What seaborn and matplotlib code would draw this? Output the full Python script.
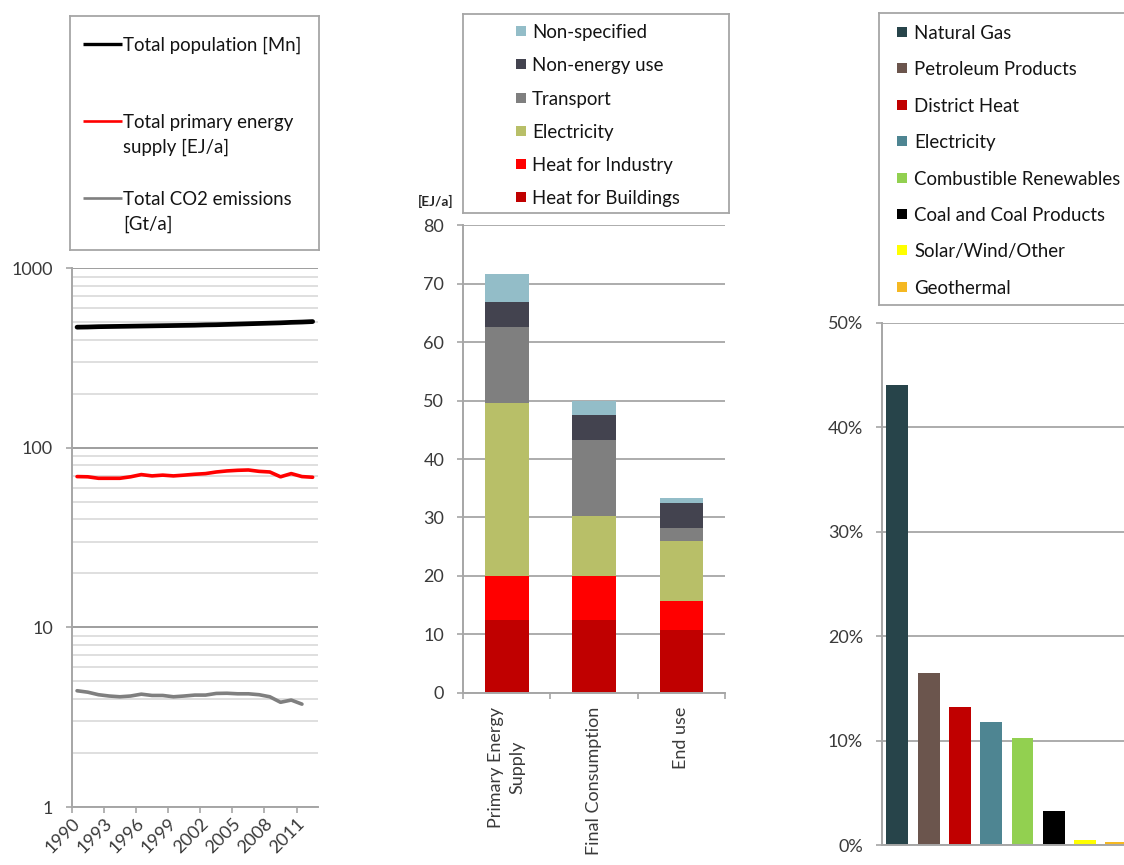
import matplotlib
matplotlib.use("Agg")
import matplotlib.pyplot as plt
import numpy as np
import pandas as pd
import seaborn as sns
from matplotlib.ticker import FixedLocator, FuncFormatter, NullFormatter

# ---------------- data ----------------
years = list(range(1990, 2013))
population_mn = [470, 471, 473, 474, 475, 476, 477, 478, 479, 480, 481, 482,
                 484, 485, 487, 489, 491, 493, 495, 497, 500, 502, 505]
primary_energy_ej = [69.2, 69.0, 67.7, 67.7, 67.7, 69.0, 71.0, 69.8, 70.5, 69.8,
                     70.5, 71.3, 71.9, 73.4, 74.4, 75.0, 75.3, 74.0, 73.4, 69.0,
                     71.9, 69.2, 68.6]
co2_years = list(range(1990, 2012))
co2_gt = [4.44, 4.36, 4.22, 4.15, 4.11, 4.15, 4.25, 4.18, 4.18, 4.11, 4.15,
          4.20, 4.20, 4.29, 4.30, 4.27, 4.27, 4.22, 4.11, 3.83, 3.94, 3.74]
trend_labels = ["Total population [Mn]",
                "Total primary energy\nsupply [EJ/a]",
                "Total CO2 emissions\n[Gt/a]"]
trend_colors = ["#000000", "#FF0000", "#7F7F7F"]

stages = ["Primary Energy\nSupply", "Final Consumption", "End use"]
heat_buildings = [12.5, 12.5, 10.7]
heat_industry = [7.4, 7.4, 5.0]
electricity = [29.6, 10.3, 10.3]
transport = [13.1, 13.1, 2.2]
non_energy = [4.3, 4.3, 4.3]
non_specified = [4.8, 2.3, 0.8]
use_labels = ["Heat for Buildings", "Heat for Industry", "Electricity",
              "Transport", "Non-energy use", "Non-specified"]
use_colors = ["#C00000", "#FF0000", "#B8BF68", "#7F7F7F", "#43434F", "#93BDC8"]

carriers = ["Natural Gas", "Petroleum Products", "District Heat", "Electricity",
            "Combustible Renewables", "Coal and Coal Products",
            "Solar/Wind/Other", "Geothermal"]
carrier_share = [0.440, 0.165, 0.132, 0.118, 0.102, 0.0325, 0.005, 0.003]
carrier_colors = ["#27444A", "#6B554D", "#C00000", "#4E8592", "#92D050",
                  "#000000", "#FFFF00", "#F5B822"]

# ---------------- style ----------------
sns.set_theme(style="white")
plt.rcParams["font.family"] = ["Lato", "DejaVu Sans"]

W, H = 1124, 865
fig = plt.figure(figsize=(W / 100, H / 100), dpi=100)

AXIS_COL = "#A6A6A6"
GRID_COL = "#A6A6A6"
MINOR_GRID = "#D6D6D6"
TICK_TXT = "#3A3A3A"
LEG_TXT = "#141414"
TICK_FS = 13
LEG_FS = 13.4


def px_rect(x0, y0, x1, y1):
    return [x0 / W, 1 - y1 / H, (x1 - x0) / W, (y1 - y0) / H]


def style_axes(ax):
    for side in ("top", "right"):
        ax.spines[side].set_visible(False)
    for side in ("left", "bottom"):
        ax.spines[side].set_color(AXIS_COL)
        ax.spines[side].set_linewidth(1.4)
    ax.set_facecolor("white")
    ax.set_axisbelow(True)
    ax.set_xlabel("")
    ax.set_ylabel("")


def legend_panel(x0, y0, x1, y1):
    lax = fig.add_axes(px_rect(x0, y0, x1, y1))
    lax.set_xlim(x0, x1)
    lax.set_ylim(y1, y0)
    lax.set_xticks([])
    lax.set_yticks([])
    lax.set_facecolor("white")
    for s in lax.spines.values():
        s.set_color(AXIS_COL)
        s.set_linewidth(1.3)
    return lax


# ---------------- left: trends on log scale ----------------
ax1 = fig.add_axes(px_rect(71.7, 268.3, 318, 807))
sns.lineplot(x=years, y=population_mn, color=trend_colors[0], lw=3.4, ax=ax1)
sns.lineplot(x=years, y=primary_energy_ej, color=trend_colors[1], lw=2.6, ax=ax1)
sns.lineplot(x=co2_years, y=co2_gt, color=trend_colors[2], lw=2.6, ax=ax1)
style_axes(ax1)
ax1.set_yscale("log")
ax1.set_ylim(1, 1000)
ax1.set_xlim(1989.5, 2012.5)
ax1.yaxis.set_major_locator(FixedLocator([1, 10, 100, 1000]))
ax1.yaxis.set_major_formatter(FuncFormatter(lambda v, _: f"{v:g}"))
ax1.yaxis.set_minor_locator(FixedLocator(
    [m * 10 ** e for e in range(0, 3) for m in range(2, 10)]))
ax1.yaxis.set_minor_formatter(NullFormatter())
ax1.grid(which="major", axis="y", color="#969696", lw=1.3)
ax1.grid(which="minor", axis="y", color=MINOR_GRID, lw=1.1)
ax1.grid(False, axis="x", which="both")
ax1.tick_params(axis="y", which="major", left=True, length=4.5, width=1.2,
                color=AXIS_COL, pad=9, labelsize=TICK_FS, labelcolor=TICK_TXT)
ax1.tick_params(axis="y", which="minor", left=False, length=0)
label_years = years[::3][:8]
ax1.xaxis.set_major_locator(FixedLocator(label_years))
ax1.xaxis.set_minor_locator(FixedLocator([1989.5 + 3 * k for k in range(8)]))
ax1.set_xticklabels([str(y) for y in label_years], rotation=45, ha="right",
                    va="center", rotation_mode="anchor")
ax1.tick_params(axis="x", which="major", bottom=True, length=0, pad=10,
                labelsize=TICK_FS, labelcolor=TICK_TXT)
ax1.tick_params(axis="x", which="minor", bottom=True, length=4.5, width=1.2,
                color=AXIS_COL)

# ---------------- middle: stacked energy use ----------------
ax2 = fig.add_axes(px_rect(463, 225.3, 725, 692.7))
layers = [heat_buildings, heat_industry, electricity, transport, non_energy,
          non_specified]
cum = np.cumsum(np.array(layers), axis=0)
use_df = pd.DataFrame({"stage": stages})
for i in range(len(layers) - 1, -1, -1):
    use_df["top"] = cum[i]
    sns.barplot(data=use_df, x="stage", y="top", color=use_colors[i],
                saturation=1, width=0.5, errorbar=None, ax=ax2,
                edgecolor="none", linewidth=0)
style_axes(ax2)
ax2.set_ylim(0, 80)
ax2.set_xlim(-0.5, 2.5)
ax2.yaxis.set_major_locator(FixedLocator(range(0, 81, 10)))
ax2.grid(axis="y", color=GRID_COL, lw=1.3)
ax2.grid(False, axis="x")
ax2.tick_params(axis="y", left=True, length=4.5, width=1.2, color=AXIS_COL,
                pad=9, labelsize=TICK_FS, labelcolor=TICK_TXT)
ax2.xaxis.set_major_locator(FixedLocator([0, 1, 2]))
ax2.set_xticklabels(stages, rotation=90, ha="center", va="top",
                    multialignment="center", linespacing=1.45)
ax2.xaxis.set_minor_locator(FixedLocator([-0.5, 0.5, 1.5, 2.5]))
ax2.tick_params(axis="x", which="major", bottom=True, length=0, pad=10,
                labelsize=TICK_FS, labelcolor=TICK_TXT)
ax2.tick_params(axis="x", which="minor", bottom=True, length=4.5, width=1.2,
                color=AXIS_COL)
fig.text(435.5 / W, 1 - 201.5 / H, "[EJ/a]", fontsize=9.8, fontweight="bold",
         color="#262626", ha="center", va="center")

# ---------------- right: carrier shares ----------------
ax3 = fig.add_axes(px_rect(881.7, 322.7, 1132, 845))
carrier_df = pd.DataFrame({"carrier": carriers, "share": carrier_share})
sns.barplot(data=carrier_df, x="carrier", y="share", hue="carrier",
            palette=carrier_colors, saturation=1, width=0.7, dodge=False,
            legend=False, errorbar=None, ax=ax3, edgecolor="none", linewidth=0)
style_axes(ax3)
ax3.set_ylim(0, 0.5)
ax3.set_xlim(-0.5, 7.5)
ax3.yaxis.set_major_locator(FixedLocator([0, 0.1, 0.2, 0.3, 0.4, 0.5]))
ax3.yaxis.set_major_formatter(FuncFormatter(lambda v, _: f"{v * 100:.0f}%"))
ax3.grid(axis="y", color=GRID_COL, lw=1.3)
ax3.grid(False, axis="x")
ax3.tick_params(axis="y", left=True, length=4.5, width=1.2, color=AXIS_COL,
                pad=9, labelsize=TICK_FS, labelcolor=TICK_TXT)
ax3.set_xticks([])

# ---------------- legends ----------------
lg1 = legend_panel(70, 16, 319, 250)
first_line_y = [43.5, 121, 198]
for label, color, y0, lw in zip(trend_labels, trend_colors, first_line_y,
                                [2.4, 1.9, 1.9]):
    lg1.plot([83, 122], [y0, y0], color=color, lw=lw, solid_capstyle="butt")
    for j, part in enumerate(label.split("\n")):
        lg1.text(123, y0 + 25 * j, part, fontsize=LEG_FS, color=LEG_TXT,
                 ha="left", va="center_baseline")

lg2 = legend_panel(463, 14, 729, 213)
for k, (label, color) in enumerate(zip(use_labels[::-1], use_colors[::-1])):
    y0 = 31 + 33.3 * k
    lg2.add_patch(plt.Rectangle((516, y0 - 5), 10, 10, color=color, lw=0))
    lg2.text(532, y0, label, fontsize=LEG_FS, color=LEG_TXT, ha="left",
             va="center_baseline")

lg3 = legend_panel(879, 13, 1140, 305)
for k, (label, color) in enumerate(zip(carriers, carrier_colors)):
    y0 = 32 + 36.4 * k
    lg3.add_patch(plt.Rectangle((897, y0 - 5), 10, 10, color=color, lw=0))
    lg3.text(914, y0, label, fontsize=LEG_FS, color=LEG_TXT, ha="left",
             va="center_baseline")

fig.savefig("out.png", dpi=100, facecolor="white")
